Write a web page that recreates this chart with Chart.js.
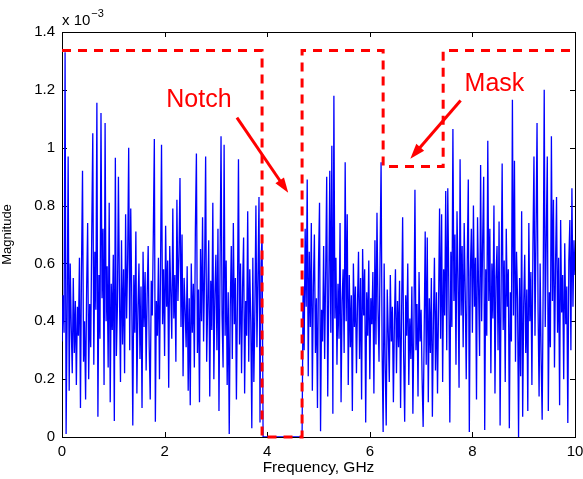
<!DOCTYPE html>
<html>
<head>
<meta charset="utf-8">
<title>Spectrum and notch mask</title>
<script src="https://cdn.jsdelivr.net/npm/chart.js@4.4.1/dist/chart.umd.min.js"></script>
<style>
  html, body { margin: 0; padding: 0; background: #fff; }
  #wrap { width: 583px; height: 479px; }
</style>
</head>
<body>
<div id="wrap"><canvas id="spectrum" width="583" height="479"></canvas></div>
<script>
// frequency grid, GHz
const freqStart = 0;
const freqStep = 0.02;

// spectrum magnitude, units of 1e-3 (one value per grid step)
const magnitude = [
  // 0.0 - 0.5 GHz
  0.33, 0.49, 0.36, 1.33, 0.01, 0.42, 0.97, 0.16, 0.60, 0.38, 0.22, 0.55, 0.29, 0.47, 0.18, 0.45, 0.35, 0.62, 0.10, 0.58, 0.92, 0.26, 0.40, 0.13, 0.51,
  0.74, 0.20, 0.46, 0.31, 0.71, 1.05, 0.25, 0.64, 0.44, 1.155, 0.07, 0.56, 0.34, 1.12, 0.48, 0.72, 0.18, 1.085, 0.40, 0.59, 0.24, 0.81, 0.12, 0.53, 0.37,
  // 1.0 - 2.0 GHz
  0.63, 0.055, 0.965, 0.28, 0.45, 0.90, 0.50, 0.19, 0.68, 0.32, 0.58, 0.22, 0.77, 0.41, 0.62, 1.00, 0.30, 0.79, 0.48, 0.04, 0.56, 0.36, 0.71, 0.15, 0.44,
  0.60, 0.27, 0.52, 0.10, 0.64, 0.38, 0.57, 0.23, 0.49, 0.66, 0.31, 0.13, 0.54, 0.42, 0.70, 1.03, 0.053, 0.47, 0.35, 0.62, 0.20, 0.57, 1.01, 0.39, 0.58,
  // 2.0 - 3.0 GHz
  0.28, 0.73, 0.45, 0.61, 0.17, 0.66, 0.50, 0.34, 0.79, 0.41, 0.56, 0.26, 0.82, 0.47, 0.63, 0.895, 0.38, 0.70, 0.21, 0.55, 0.44, 0.31, 0.59, 0.16, 0.48,
  0.11, 0.60, 0.36, 0.53, 0.24, 0.72, 0.98, 0.29, 0.51, 0.12, 0.65, 0.40, 0.76, 0.33, 0.58, 0.97, 0.26, 0.46, 0.68, 0.14, 0.54, 0.37, 0.81, 0.20, 0.49,
  // 3.0 - 4.0 GHz (notch starts at 3.9)
  0.63, 0.30, 0.72, 0.09, 0.57, 1.04, 0.42, 0.24, 1.01, 0.35, 0.61, 0.18, 0.50, 0.01, 0.45, 0.66, 0.27, 0.74, 0.39, 0.55, 0.13, 0.48, 0.96, 0.32, 0.60,
  0.22, 0.52, 0.69, 0.15, 0.47, 0.35, 0.78, 0.26, 0.58, 0.40, 0.03, 0.62, 0.19, 0.44, 0.80, 0.31, 0.55, 0.83, 0.05, 0.60, 0.70, 0, 0, 0, 0,
  // 4.0 - 5.0 GHz
  0, 0, 0, 0, 0, 0, 0, 0, 0, 0, 0, 0, 0, 0, 0, 0, 0, 0, 0, 0, 0, 0, 0, 0, 0,
  0, 0, 0, 0, 0, 0, 0, 0, 0, 0, 0.52, 0.30, 0.72, 0.45, 0.89, 0.21, 0.64, 0.38, 0.74, 0.16, 0.52, 0.70, 0.29, 0.48, 0.10,
  // 5.0 - 6.0 GHz
  0.60, 0.81, 0.02, 0.44, 0.33, 0.66, 0.27, 0.57, 0.90, 0.14, 0.50, 0.92, 0.36, 1.007, 0.08, 1.18, 0.41, 0.62, 0.25, 0.53, 0.34, 0.74, 0.12, 0.47, 0.58,
  0.29, 0.95, 0.40, 0.77, 0.18, 0.56, 0.31, 0.49, 0.09, 0.60, 0.38, 0.52, 0.22, 0.46, 0.64, 0.27, 0.55, 0.13, 0.65, 0.42, 0.58, 0.05, 0.50, 0.35, 0.61,
  // 6.0 - 7.0 GHz
  0.20, 0.48, 0.39, 0.57, 0.15, 0.68, 0.32, 0.775, 0.44, 0.26, 0.62, 0.95, 0.30, 0.017, 0.60, 0.25, 0.04, 0.51, 0.36, 0.19, 0.56, 0.33, 0.45, 0.12, 0.40,
  0.58, 0.22, 0.47, 0.31, 0.54, 0.10, 0.43, 0.76, 0.28, 0.053, 0.49, 0.35, 0.60, 0.18, 0.41, 0.27, 0.52, 0.08, 0.38, 0.855, 0.30, 0.46, 0.14, 0.57, 0.33,
  // 7.0 - 8.0 GHz
  0.44, 0.20, 0.035, 0.36, 0.71, 0.25, 0.69, 0.12, 0.48, 0.29, 0.55, 0.07, 0.40, 0.62, 0.23, 0.50, 0.15, 0.45, 0.79, 0.34, 0.77, 0.19, 0.58, 0.42, 0.85,
  0.30, 0.86, 0.52, 0.05, 0.64, 0.38, 1.065, 0.47, 0.70, 0.25, 0.78, 0.55, 0.17, 0.96, 0.42, 0.66, 0.31, 0.74, 0.50, 0.20, 0.61, 0.89, 0.017, 0.57, 0.72,
  // 8.0 - 9.0 GHz
  0.36, 0.80, 0.45, 0.62, 0.13, 0.76, 0.52, 0.28, 0.94, 0.40, 0.68, 0.90, 0.024, 0.58, 0.35, 1.024, 0.47, 0.72, 0.22, 0.60, 0.41, 0.80, 0.15, 0.55, 0.66,
  0.30, 0.745, 0.04, 0.52, 0.945, 0.37, 0.61, 0.19, 0.72, 0.45, 0.58, 0.03, 0.50, 0.33, 1.166, 0.42, 0.955, 0.26, 0.64, 0.48, 0.0, 0.55, 0.21, 0.78, 0.07,
  // 9.0 - 10.0 GHz
  0.46, 0.63, 0.29, 0.51, 0.09, 0.74, 0.40, 0.57, 0.18, 0.66, 0.97, 0.35, 0.70, 1.085, 0.44, 0.14, 0.60, 0.27, 0.06, 0.53, 1.20, 0.38, 0.69, 0.97, 0.09,
  0.50, 0.31, 1.04, 0.47, 0.82, 0.24, 0.59, 0.83, 0.36, 0.62, 0.11, 0.75, 0.43, 0.56, 0.20, 0.67, 0.39, 0.52, 0.048, 0.61, 0.75, 0.30, 0.86, 0.45, 0.68,
  0.56
];

// spectral mask corners (GHz, 1e-3)
const maskFreq = [0, 3.9, 3.9, 4.68, 4.68, 6.26, 6.26, 7.43, 7.43, 10];
const maskLevel = [1.336, 1.336, 0, 0, 1.336, 1.336, 0.935, 0.935, 1.336, 1.336];

// axis ticks
const xTicks = [0, 2, 4, 6, 8, 10];
const yTicks = [0, 0.2, 0.4, 0.6, 0.8, 1, 1.2, 1.4];

// callouts: text position and arrow from/to, in data units
const callouts = [
  { text: 'Notch', x: 2.67, y: 1.163, from: [3.41, 1.104], to: [4.41, 0.844] },
  { text: 'Mask', x: 8.43, y: 1.221, from: [7.77, 1.163], to: [6.79, 0.962] }
];

const FONT = '"Liberation Sans", Arial, Helvetica, sans-serif';

const spectrumPoints = magnitude.map((v, i) => ({ x: freqStart + i * freqStep, y: v }));
const maskPoints = maskFreq.map((f, i) => ({ x: f, y: maskLevel[i] }));

// box around the axes with inward tick marks, matlab style
const frame = {
  id: 'frame',
  beforeDatasetsDraw(chart) {
    const { ctx, chartArea: a, scales } = chart;
    ctx.save();
    ctx.strokeStyle = '#000';
    ctx.lineWidth = 1;
    ctx.strokeRect(Math.round(a.left) + 0.5, Math.round(a.top) + 0.5,
      Math.round(a.right - a.left), Math.round(a.bottom - a.top));
    ctx.beginPath();
    xTicks.forEach((t) => {
      const px = Math.round(scales.x.getPixelForValue(t)) + 0.5;
      ctx.moveTo(px, a.bottom);
      ctx.lineTo(px, a.bottom - 5);
      ctx.moveTo(px, a.top);
      ctx.lineTo(px, a.top + 5);
    });
    yTicks.forEach((t) => {
      const py = Math.round(scales.y.getPixelForValue(t)) + 0.5;
      ctx.moveTo(a.left, py);
      ctx.lineTo(a.left + 5, py);
      ctx.moveTo(a.right, py);
      ctx.lineTo(a.right - 5, py);
    });
    ctx.stroke();

    // exponent label above the y axis
    ctx.fillStyle = '#000';
    ctx.textBaseline = 'alphabetic';
    ctx.textAlign = 'left';
    ctx.font = '15px ' + FONT;
    ctx.fillText('x 10', a.left, 25);
    const w = ctx.measureText('x 10').width;
    ctx.font = '11px ' + FONT;
    ctx.fillText('\u22123', a.left + w + 1, 17);
    ctx.restore();
  }
};

const annotate = {
  id: 'annotate',
  afterDatasetsDraw(chart) {
    const { ctx, scales } = chart;
    ctx.save();
    ctx.fillStyle = '#ff0000';
    ctx.strokeStyle = '#ff0000';
    ctx.font = '25px ' + FONT;
    ctx.textAlign = 'center';
    ctx.textBaseline = 'middle';
    callouts.forEach((c) => {
      ctx.fillText(c.text, scales.x.getPixelForValue(c.x), scales.y.getPixelForValue(c.y));
      const x1 = scales.x.getPixelForValue(c.from[0]);
      const y1 = scales.y.getPixelForValue(c.from[1]);
      const x2 = scales.x.getPixelForValue(c.to[0]);
      const y2 = scales.y.getPixelForValue(c.to[1]);
      const ang = Math.atan2(y2 - y1, x2 - x1);
      const head = 16;
      ctx.lineWidth = 3;
      ctx.beginPath();
      ctx.moveTo(x1, y1);
      ctx.lineTo(x2 - Math.cos(ang) * head * 0.8, y2 - Math.sin(ang) * head * 0.8);
      ctx.stroke();
      ctx.beginPath();
      ctx.moveTo(x2, y2);
      ctx.lineTo(x2 - head * Math.cos(ang - 0.33), y2 - head * Math.sin(ang - 0.33));
      ctx.lineTo(x2 - head * Math.cos(ang + 0.33), y2 - head * Math.sin(ang + 0.33));
      ctx.closePath();
      ctx.fill();
    });
    ctx.restore();
  }
};

new Chart(document.getElementById('spectrum'), {
  type: 'scatter',
  data: {
    datasets: [
      {
        label: 'Mask',
        data: maskPoints,
        showLine: true,
        borderColor: '#ff0000',
        borderWidth: 3,
        borderDash: [9, 7],
        pointRadius: 0,
        fill: false,
        clip: false,
        order: 0
      },
      {
        label: 'Spectrum',
        data: spectrumPoints,
        showLine: true,
        borderColor: '#0000ff',
        borderWidth: 1.3,
        pointRadius: 0,
        fill: false,
        order: 1
      }
    ]
  },
  options: {
    responsive: false,
    animation: false,
    events: [],
    layout: { padding: { top: 32, right: 8, left: 0, bottom: 0 } },
    plugins: {
      legend: { display: false },
      tooltip: { enabled: false }
    },
    scales: {
      x: {
        type: 'linear',
        min: 0,
        max: 10,
        afterFit: (s) => {
          s.height = 42;
          s.paddingLeft = 0;
          s.paddingRight = 0;
        },
        afterBuildTicks: (s) => { s.ticks = xTicks.map((v) => ({ value: v })); },
        grid: { display: false, drawTicks: false },
        border: { display: false },
        ticks: {
          color: '#000',
          font: { family: FONT, size: 15 },
          padding: 6,
          maxRotation: 0
        },
        title: {
          display: true,
          text: 'Frequency, GHz',
          color: '#000',
          font: { family: FONT, size: 15.5 },
          padding: { top: 0, bottom: 2 }
        }
      },
      y: {
        type: 'linear',
        min: 0,
        max: 1.4,
        afterFit: (s) => {
          s.width = 62;
          s.paddingTop = 0;
          s.paddingBottom = 0;
        },
        afterBuildTicks: (s) => { s.ticks = yTicks.map((v) => ({ value: v })); },
        grid: { display: false, drawTicks: false },
        border: { display: false },
        ticks: {
          color: '#000',
          font: { family: FONT, size: 15 },
          padding: 7,
          callback: (v) => String(parseFloat(v.toFixed(1)))
        },
        title: {
          display: true,
          text: 'Magnitude',
          color: '#000',
          font: { family: FONT, size: 13 },
          padding: { top: 0, bottom: 10 }
        }
      }
    }
  },
  plugins: [frame, annotate]
});
</script>
</body>
</html>
